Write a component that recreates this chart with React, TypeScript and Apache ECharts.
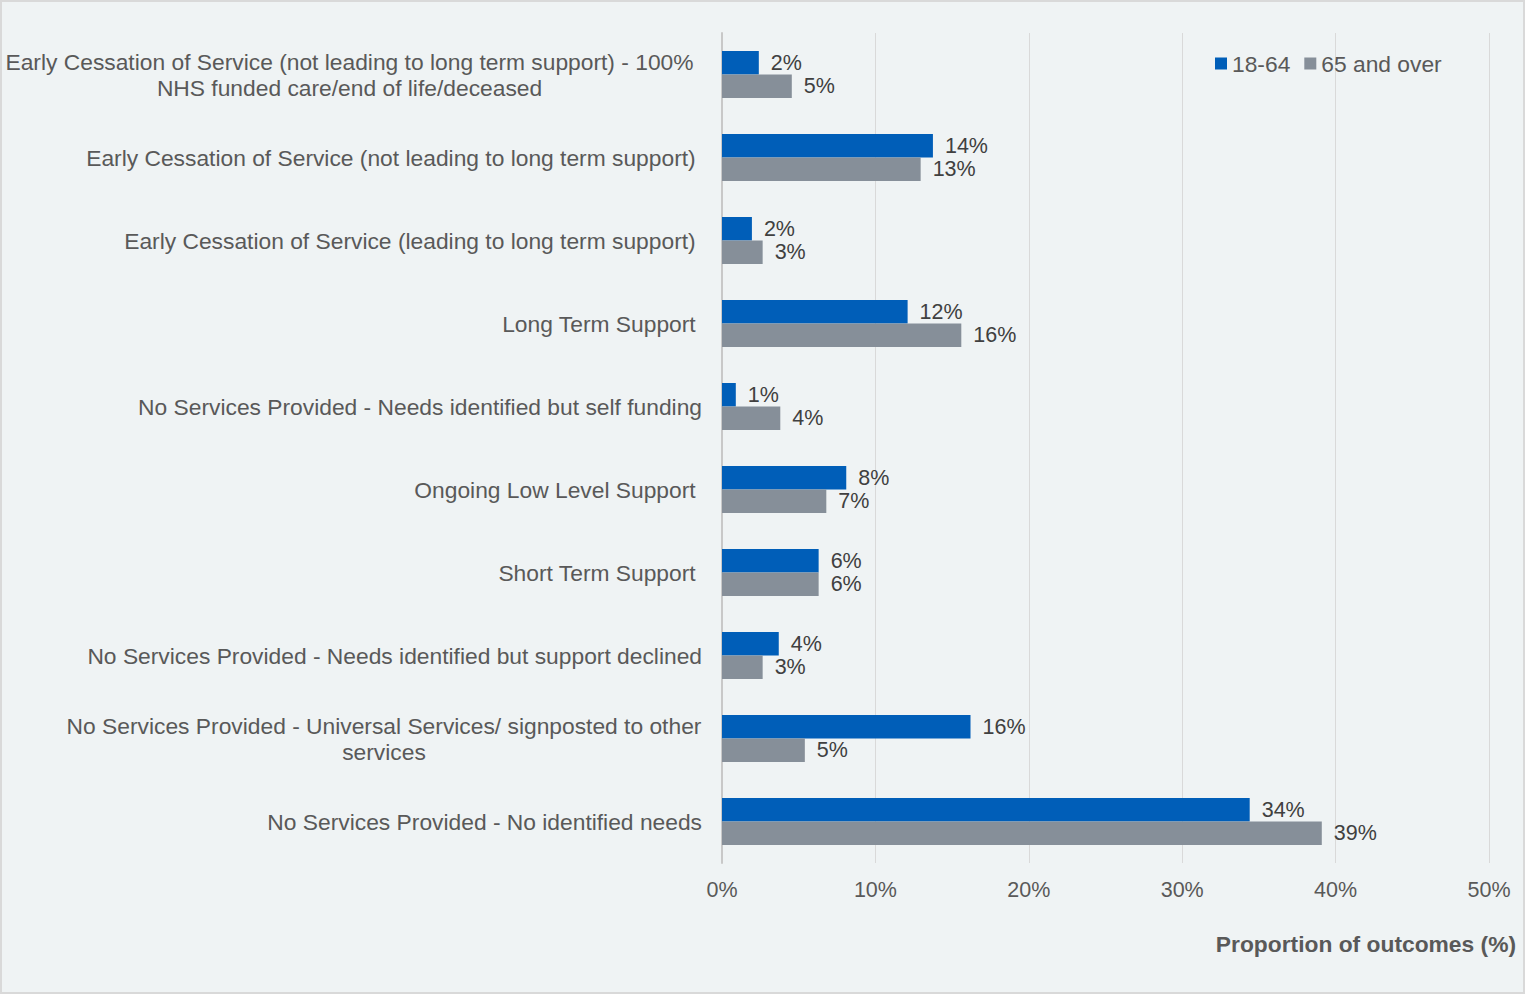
import React, { useEffect, useRef } from "react";
import * as echarts from "echarts";

// Outcome categories, top to bottom
const categories: string[] = [
  "Early Cessation of Service (not leading to long term support) - 100%\nNHS funded care/end of life/deceased",
  "Early Cessation of Service (not leading to long term support) ",
  "Early Cessation of Service (leading to long term support) ",
  "Long Term Support ",
  "No Services Provided - Needs identified but self funding",
  "Ongoing Low Level Support ",
  "Short Term Support ",
  "No Services Provided - Needs identified but support declined",
  "No Services Provided - Universal Services/ signposted to other\nservices",
  "No Services Provided - No identified needs",
];

// Proportion of outcomes (%) by age band
const age18to64: number[] = [2.4, 13.75, 1.95, 12.1, 0.9, 8.1, 6.3, 3.7, 16.2, 34.4];
const age65plus: number[] = [4.55, 12.95, 2.65, 15.6, 3.8, 6.8, 6.3, 2.65, 5.4, 39.1];

const xTicks: number[] = [0, 10, 20, 30, 40, 50];

const BLUE = "#005EB8";
const GREY = "#868F99";
const TEXT = "#595959";
const FONT = "Liberation Sans, Arial, sans-serif";
const WORD_SIZE = 22.8;
const NUM_SIZE = 21.5;

export default function App() {
  const ref = useRef<HTMLDivElement>(null);

  useEffect(() => {
    document.body.style.margin = "0";
    if (!ref.current) return;
    const chart = echarts.init(ref.current, undefined, { renderer: "svg" });

    // Two-line labels are centred line by line inside a fixed-width box
    const labelFormatter = (value: string) => {
      if (value.includes("\n")) {
        const key = value.startsWith("Early") ? "c1" : "c2";
        return value
          .split("\n")
          .map((line) => `{${key}|${line}}`)
          .join("\n");
      }
      return value;
    };

    const dataLabel = {
      show: true,
      position: "right",
      distance: 12,
      formatter: (p: any) => `${Math.round(p.value)}%`,
      fontFamily: FONT,
      fontSize: NUM_SIZE,
      color: "#404040",
    };

    chart.setOption({
      animation: false,
      backgroundColor: "#EFF3F4",
      textStyle: { fontFamily: FONT },
      grid: {
        left: 722,
        right: 36,
        top: 33,
        bottom: 131,
        containLabel: false,
        outerBoundsMode: "none",
      },
      title: {
        text: "Proportion of outcomes (%)",
        right: 9,
        top: 932,
        padding: 0,
        textStyle: { fontFamily: FONT, fontSize: WORD_SIZE, fontWeight: "bold", color: TEXT },
      },
      legend: {
        data: ["18-64", "65 and over"],
        left: 1215,
        top: 52,
        padding: 0,
        icon: "rect",
        itemWidth: 12,
        itemHeight: 12,
        itemGap: 14,
        textStyle: { fontFamily: FONT, fontSize: WORD_SIZE, color: TEXT },
      },
      xAxis: {
        type: "value",
        min: xTicks[0],
        max: xTicks[xTicks.length - 1],
        interval: 10,
        axisLine: { show: false },
        axisTick: { show: false },
        axisLabel: {
          formatter: (v: number) => `${v}%`,
          fontFamily: FONT,
          fontSize: NUM_SIZE,
          color: TEXT,
          margin: 16,
        },
        splitLine: { show: true, lineStyle: { color: "#D9D9D9", width: 1 } },
      },
      yAxis: {
        type: "category",
        inverse: true,
        data: categories,
        axisLine: { show: true, lineStyle: { color: "#C8C8C8", width: 2 } },
        axisTick: { show: false },
        axisLabel: {
          fontFamily: FONT,
          fontSize: WORD_SIZE,
          color: TEXT,
          margin: 20,
          lineHeight: 26,
          formatter: labelFormatter,
          rich: {
            c1: { width: 705, align: "center", fontFamily: FONT, fontSize: WORD_SIZE, color: TEXT, lineHeight: 26 },
            c2: { width: 636, align: "center", fontFamily: FONT, fontSize: WORD_SIZE, color: TEXT, lineHeight: 26 },
          },
        },
      },
      series: [
        {
          name: "18-64",
          type: "bar",
          data: age18to64,
          barWidth: 23.5,
          barGap: "0%",
          itemStyle: { color: BLUE },
          label: dataLabel,
        },
        {
          name: "65 and over",
          type: "bar",
          data: age65plus,
          barWidth: 23.5,
          barGap: "0%",
          itemStyle: { color: GREY },
          label: dataLabel,
        },
      ],
    });

    return () => chart.dispose();
  }, []);

  return (
    <div style={{ width: 1525, height: 994, position: "relative" }}>
      <div ref={ref} style={{ position: "absolute", left: 0, top: 0, width: 1525, height: 994 }} />
      <div
        style={{
          position: "absolute",
          left: 0,
          top: 0,
          width: 1525,
          height: 994,
          boxSizing: "border-box",
          border: "2px solid #D9D9D9",
          pointerEvents: "none",
        }}
      />
    </div>
  );
}
